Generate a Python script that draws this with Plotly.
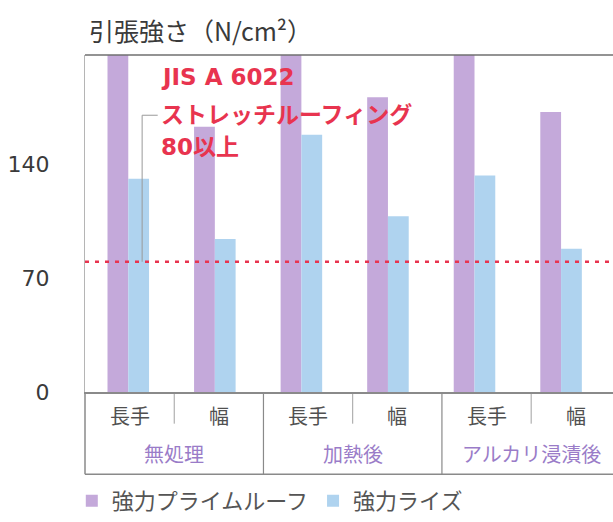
import plotly.graph_objects as go

# --- data -------------------------------------------------------------
groups = ["無処理", "加熱後", "アルカリ浸漬後"]
directions = ["長手", "幅"]
categories = [f"{g}・{d}" for g in groups for d in directions]

series_names = ["強力プライムルーフ", "強力ライズ"]
prime_roof = [228, 163, 222, 181, 219, 172]   # tall bars run past the top of the axis
rise = [131, 94, 158, 108, 133, 88]

standard_value = 80
standard_lines = ["JIS A 6022", "ストレッチルーフィング", f"{standard_value}以上"]

y_ticks = [0, 70, 140]
y_max = 207

# --- styling ----------------------------------------------------------
FONT = "Noto Sans CJK JP"
MIXED = "DejaVu Sans, Noto Sans CJK JP"
PURPLE = "#c4a9da"
BLUE = "#afd3ef"
RED = "#e8344f"
TEXT = "#3a3a3a"
GROUP_TEXT = "#9a7cc8"
FRAME = "#8a8a8a"

fig = go.Figure()
fig.add_trace(go.Bar(x=categories, y=prime_roof, name=series_names[0],
                     marker=dict(color=PURPLE, line=dict(width=0))))
fig.add_trace(go.Bar(x=categories, y=rise, name=series_names[1],
                     marker=dict(color=BLUE, line=dict(width=0))))

shapes = []
annotations = []

# frame: top edge of the plot
shapes.append(dict(type="line", xref="paper", yref="paper", x0=0, x1=1, y0=1, y1=1,
                   line=dict(color="#6f6f6f", width=1.5)))

# standard threshold line
shapes.append(dict(type="line", xref="paper", yref="y", x0=0, x1=1,
                   y0=standard_value, y1=standard_value, layer="above",
                   line=dict(color=RED, width=2.5, dash="4px,6px")))

# leader from the threshold note down to the threshold line
shapes.append(dict(type="path", xref="x", yref="y", layer="above",
                   path=f"M 0.16,{standard_value} L 0.16,170 L 0.34,170",
                   line=dict(color="#9a9a9a", width=1)))

for line_text, yv in zip(standard_lines, [193.5, 170.4, 150.5]):
    annotations.append(dict(xref="x", yref="y", x=0.36, y=yv, xanchor="left",
                            yanchor="middle", showarrow=False,
                            text=f"<b>{line_text}</b>",
                            font=dict(family=MIXED, size=23, color=RED)))

# category table under the plot
CELL = 0.169           # width of one table cell as a fraction of the plot width
TABLE_BOTTOM = -0.244
n_cells = len(categories)
shapes.append(dict(type="line", xref="paper", yref="paper", x0=0, x1=1,
                   y0=TABLE_BOTTOM, y1=TABLE_BOTTOM, line=dict(color=FRAME, width=1.5)))
shapes.append(dict(type="line", xref="paper", yref="paper", x0=0, x1=0,
                   y0=TABLE_BOTTOM, y1=0, line=dict(color=FRAME, width=1.5)))
for g in range(1, len(groups)):
    xg = 2 * g * CELL
    shapes.append(dict(type="line", xref="paper", yref="paper", x0=xg, x1=xg,
                       y0=TABLE_BOTTOM, y1=0, line=dict(color=FRAME, width=1.2)))
for g in range(len(groups)):
    xs = (2 * g + 1) * CELL
    shapes.append(dict(type="line", xref="paper", yref="paper", x0=xs, x1=xs,
                       y0=-0.094, y1=-0.006, line=dict(color="#a0a0a0", width=1)))
    annotations.append(dict(xref="paper", yref="paper", x=xs, y=-0.182,
                            xanchor="center", yanchor="middle", showarrow=False,
                            text=groups[g],
                            font=dict(family=FONT, size=20, color=GROUP_TEXT)))
for i in range(n_cells):
    annotations.append(dict(xref="paper", yref="paper", x=(i + 0.5) * CELL, y=-0.07,
                            xanchor="center", yanchor="middle", showarrow=False,
                            text=directions[i % 2],
                            font=dict(family=FONT, size=20, color="#505050")))

fig.update_layout(
    width=613, height=522,
    margin=dict(l=85, r=0, t=55, b=127),
    paper_bgcolor="white", plot_bgcolor="white",
    barmode="group", bargap=0.52, bargroupgap=0,
    font=dict(family=FONT, color=TEXT),
    title=dict(text="引張強さ（N/cm²）", xref="container", yref="container",
               x=0.145, y=0.939, xanchor="left", yanchor="middle",
               font=dict(family=FONT, size=25, color=TEXT)),
    xaxis=dict(type="category", range=[-0.5, 5.6], showticklabels=False,
               showgrid=False, zeroline=False, ticks="",
               showline=True, linecolor=FRAME, linewidth=1.5),
    yaxis=dict(range=[0, y_max], tickvals=y_ticks, ticks="", showgrid=False,
               zeroline=False, showline=True, linecolor="#b5b5b5", linewidth=1.2,
               ticklabelstandoff=30,
               tickfont=dict(family="DejaVu Sans", size=22, color=TEXT)),
    legend=dict(orientation="h", x=-0.025, y=-0.324, xanchor="left", yanchor="middle",
                itemwidth=30, traceorder="normal",
                font=dict(family=FONT, size=22, color="#555555")),
    shapes=shapes,
    annotations=annotations,
)

fig.write_html("out.html")
